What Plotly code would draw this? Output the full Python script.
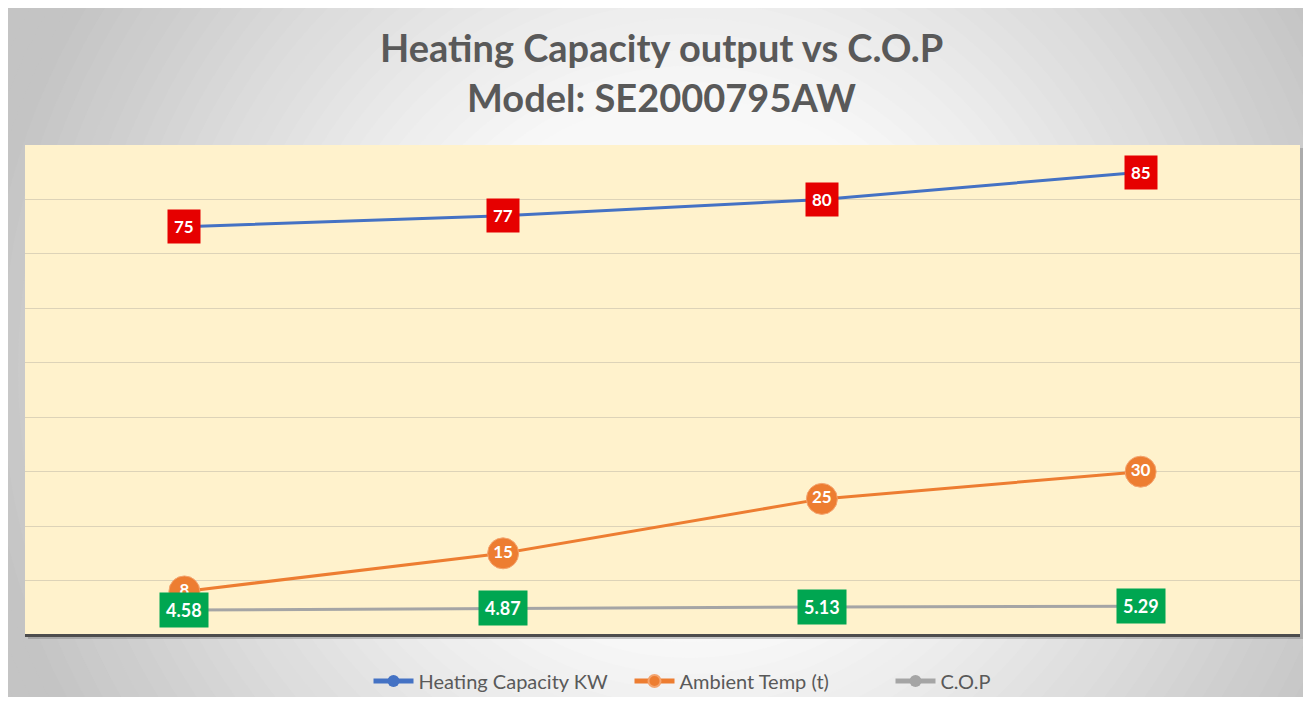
import plotly.graph_objects as go

categories = ["Point 1", "Point 2", "Point 3", "Point 4"]
heating_kw = [75, 77, 80, 85]
ambient_temp = [8, 15, 25, 30]
cop = [4.58, 4.87, 5.13, 5.29]
cop_labels = ["4.58", "4.87", "5.13", "5.29"]

OFF = 8  # page body margin
W, H = 1303, 693
L, R, T, B = 17, 11, 137, 66
PW, PH = W - L - R, H - T - B

def px(x):  # page x -> paper
    return (x - OFF - L) / PW

def py(y):  # page y -> paper
    return (H - B - (y - OFF)) / PH

fig = go.Figure()

fig.add_trace(go.Scatter(
    x=categories, y=heating_kw, name="Heating Capacity KW", mode="lines+markers",
    line=dict(color="#4472c4", width=3), marker=dict(size=7, color="#4472c4")))
fig.add_trace(go.Scatter(
    x=categories, y=ambient_temp, name="Ambient Temp (t)", mode="lines+markers+text",
    line=dict(color="#ed7d31", width=3),
    marker=dict(size=31, color="#ed7d31", line=dict(color="#f4a46e", width=1)),
    text=[str(v) for v in ambient_temp], textposition="middle center",
    textfont=dict(color="white", size=17, family="Lato", weight="bold")))
fig.add_trace(go.Scatter(
    x=categories, y=cop, name="C.O.P", mode="lines+markers",
    line=dict(color="#a5a5a5", width=3), marker=dict(size=7, color="#a5a5a5")))

annotations = []
for c, v in zip(categories, heating_kw):
    annotations.append(dict(x=c, y=v, xref="x", yref="y", text=f"<b>{v}</b>", showarrow=False,
                            bgcolor="#e60000", borderpad=6,
                            font=dict(color="white", size=17, family="Lato")))
for c, v, t in zip(categories, cop, cop_labels):
    annotations.append(dict(x=c, y=v, xref="x", yref="y", text=f"<b>{t}</b>", showarrow=False,
                            bgcolor="#00a651", borderpad=6,
                            font=dict(color="white", size=18, family="Lato")))
annotations.append(dict(x=px(661), y=py(47), xref="paper", yref="paper",
                        text="<b>Heating Capacity output vs C.O.P</b>", showarrow=False,
                        font=dict(color="#595959", size=38, family="Lato"), yanchor="middle"))
annotations.append(dict(x=px(661), y=py(97), xref="paper", yref="paper",
                        text="<b>Model: SE2000795AW</b>", showarrow=False,
                        font=dict(color="#595959", size=38, family="Lato"), yanchor="middle"))

# background: gray box with radial gradient (concentric circles, page px)
shapes = []
cx, cy = 690, 370
n = 40
for i in range(n):
    r = 800 - i * 16
    t = min(max((r - 280) / 440, 0.0), 1.0)
    g = int(round(0xf8 - (0xf8 - 0xc4) * t))
    col = f"rgb({g},{g},{g})"
    shapes.append(dict(type="circle", xref="paper", yref="paper", layer="below",
                       x0=px(cx - r), x1=px(cx + r), y0=py(cy + r), y1=py(cy - r),
                       fillcolor=col, line=dict(width=0)))
# white frame outside the gray box
for (x0, x1, y0, y1) in [(-300, 6, -300, 1000), (1305, 1700, -300, 1000),
                         (-300, 1700, -300, 7), (-300, 1700, 697, 1000)]:
    shapes.append(dict(type="rect", xref="paper", yref="paper", layer="below",
                       x0=px(x0), x1=px(x1), y0=py(y1), y1=py(y0),
                       fillcolor="white", line=dict(width=0)))
# plot area shadow
shapes.append(dict(type="rect", xref="paper", yref="paper", layer="below",
                   x0=px(28), x1=px(1304), y0=py(639), y1=py(148),
                   fillcolor="rgba(110,110,110,0.35)", line=dict(width=0)))
# plot area fill
shapes.append(dict(type="rect", xref="paper", yref="paper", layer="below",
                   x0=0, x1=1, y0=0, y1=1,
                   fillcolor="#fff2cc", line=dict(width=0)))

fig.update_layout(
    width=W, height=H,
    margin=dict(l=L, r=R, t=T, b=B),
    paper_bgcolor="white",
    plot_bgcolor="rgba(0,0,0,0)",
    showlegend=True,
    legend=dict(orientation="h", x=px(760), xanchor="center", y=1 - (681 - OFF) / H, yref="container",
                yanchor="middle", font=dict(color="#595959", size=20, family="Lato"),
                bgcolor="rgba(0,0,0,0)", itemsizing="constant", itemwidth=40,
                entrywidth=206, entrywidthmode="pixels"),
    xaxis=dict(type="category", range=[-0.5, 3.5], showticklabels=False, showgrid=False,
               zeroline=False, showline=False, ticks=""),
    yaxis=dict(range=[0, 90], dtick=10, showticklabels=False, showgrid=True,
               gridcolor="#ddd3b8", gridwidth=1, zeroline=True, zerolinecolor="#4d4d4d",
               zerolinewidth=3, showline=False, ticks=""),
    annotations=annotations,
    shapes=shapes,
)

fig.write_html("out.html")
